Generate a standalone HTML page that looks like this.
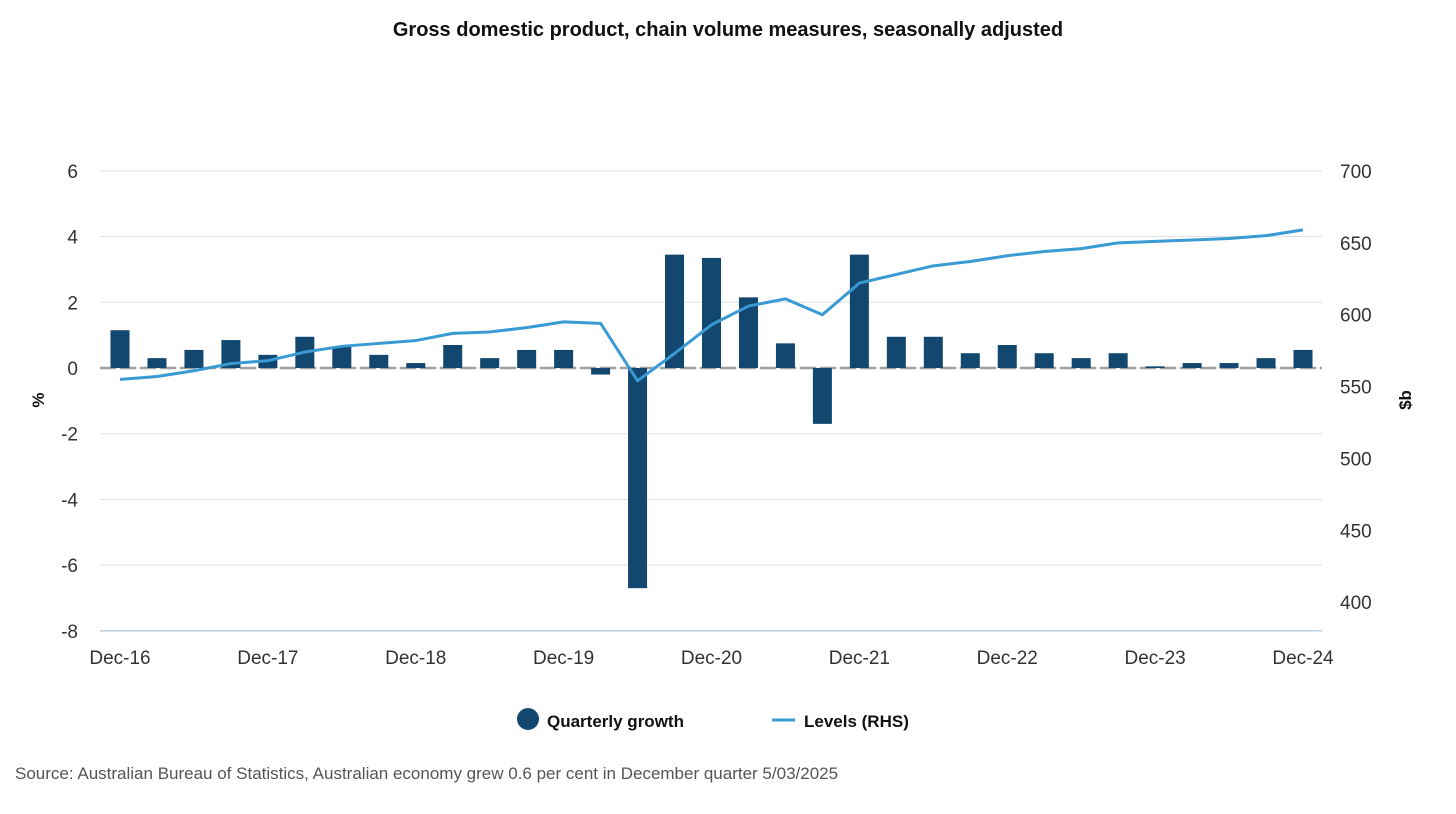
<!DOCTYPE html>
<html><head><meta charset="utf-8"><style>
body{margin:0;background:#fff;font-family:"Liberation Sans",Arial,sans-serif;}
svg text{font-family:"Liberation Sans",Arial,sans-serif;}
</style></head><body>
<svg id="chart" width="1456" height="809">
<text x="728" y="36" text-anchor="middle" font-size="20" font-weight="bold" fill="#111">Gross domestic product, chain volume measures, seasonally adjusted</text>
<g id="grid"></g><g id="bars"></g><g id="line"></g><g id="axes"></g>
<text transform="translate(44,400) rotate(-90)" text-anchor="middle" font-size="17" font-weight="bold" fill="#111">%</text>
<text transform="translate(1411,400) rotate(-90)" text-anchor="middle" font-size="17" font-weight="bold" fill="#111">$b</text>
<g>
<circle cx="528" cy="719" r="11" fill="#12476f"/>
<text x="547" y="727" font-size="17" font-weight="bold" fill="#111">Quarterly growth</text>
<line x1="772" y1="720" x2="795" y2="720" stroke="#3a9ad4" stroke-width="3"/>
<text x="804" y="727" font-size="17" font-weight="bold" fill="#111">Levels (RHS)</text>
</g>
<text x="15" y="779" font-size="17" fill="#555">Source: Australian Bureau of Statistics, Australian economy grew 0.6 per cent in December quarter 5/03/2025</text>
</svg>
<script>
const categories=["Dec-16","Mar-17","Jun-17","Sep-17","Dec-17","Mar-18","Jun-18","Sep-18","Dec-18","Mar-19","Jun-19","Sep-19","Dec-19","Mar-20","Jun-20","Sep-20","Dec-20","Mar-21","Jun-21","Sep-21","Dec-21","Mar-22","Jun-22","Sep-22","Dec-22","Mar-23","Jun-23","Sep-23","Dec-23","Mar-24","Jun-24","Sep-24","Dec-24"];
const growth=[1.15,0.3,0.55,0.85,0.4,0.95,0.65,0.4,0.15,0.7,0.3,0.55,0.55,-0.2,-6.7,3.45,3.35,2.15,0.75,-1.7,3.45,0.95,0.95,0.45,0.7,0.45,0.3,0.45,0.05,0.15,0.15,0.3,0.55];
const levels=[555,557,561,566,568,574,578,580,582,587,588,591,595,594,554,573,593,606,611,600,622,628,634,637,641,644,646,650,651,652,653,655,659];
const leftTicks=[6,4,2,0,-2,-4,-6,-8];
const rightTicks=[700,650,600,550,500,450,400];
const xTickLabels=["Dec-16","Dec-17","Dec-18","Dec-19","Dec-20","Dec-21","Dec-22","Dec-23","Dec-24"];
const NS="http://www.w3.org/2000/svg";
const yL=v=>368-v*32.86;
const yR=v=>171+(700-v)*1.437;
const x=i=>120+i*(1303-120)/(categories.length-1);
function mk(tag,attrs,parent,txt){const e=document.createElementNS(NS,tag);for(const k in attrs)e.setAttribute(k,attrs[k]);if(txt!==undefined)e.textContent=txt;document.getElementById(parent).appendChild(e);return e;}
leftTicks.forEach(t=>{
  const g=mk('line',{x1:100,x2:1322,y1:yL(t),y2:yL(t),stroke:t===-8?'#9bb8cc':'#dde2e6','stroke-width':1},'grid');
  
  
  const l=mk('text',{x:78,y:yL(t)+7,'text-anchor':'end','font-size':19,fill:'#333'},'axes',String(t));
  
  
});
rightTicks.forEach(t=>{
  const l=mk('text',{x:1340,y:yR(t)+7,'font-size':19,fill:'#333'},'axes',String(t));
  
  
});
xTickLabels.forEach(lab=>{
  const i=categories.indexOf(lab);
  const l=mk('text',{x:x(i),y:664,'text-anchor':'middle','font-size':19,fill:'#333'},'axes',lab);
  
  
});
const z=mk('line',{x1:100,x2:1322,y1:yL(0),y2:yL(0),stroke:'#a0a0a0','stroke-width':2.5,'stroke-dasharray':'16,4'},'grid');


growth.forEach((v,i)=>{
  const y0=yL(Math.max(v,0)),h=Math.abs(yL(v)-yL(0));
  const b=mk('rect',{x:x(i)-9.5,y:y0,width:19,height:h,fill:'#12476f'},'bars');
  
  
});
const p=mk('polyline',{points:levels.map((v,i)=>x(i)+','+yR(v)).join(' '),fill:'none',stroke:'#3a9ad4','stroke-width':3,'stroke-linejoin':'round'},'line');


</script>
</body></html>
